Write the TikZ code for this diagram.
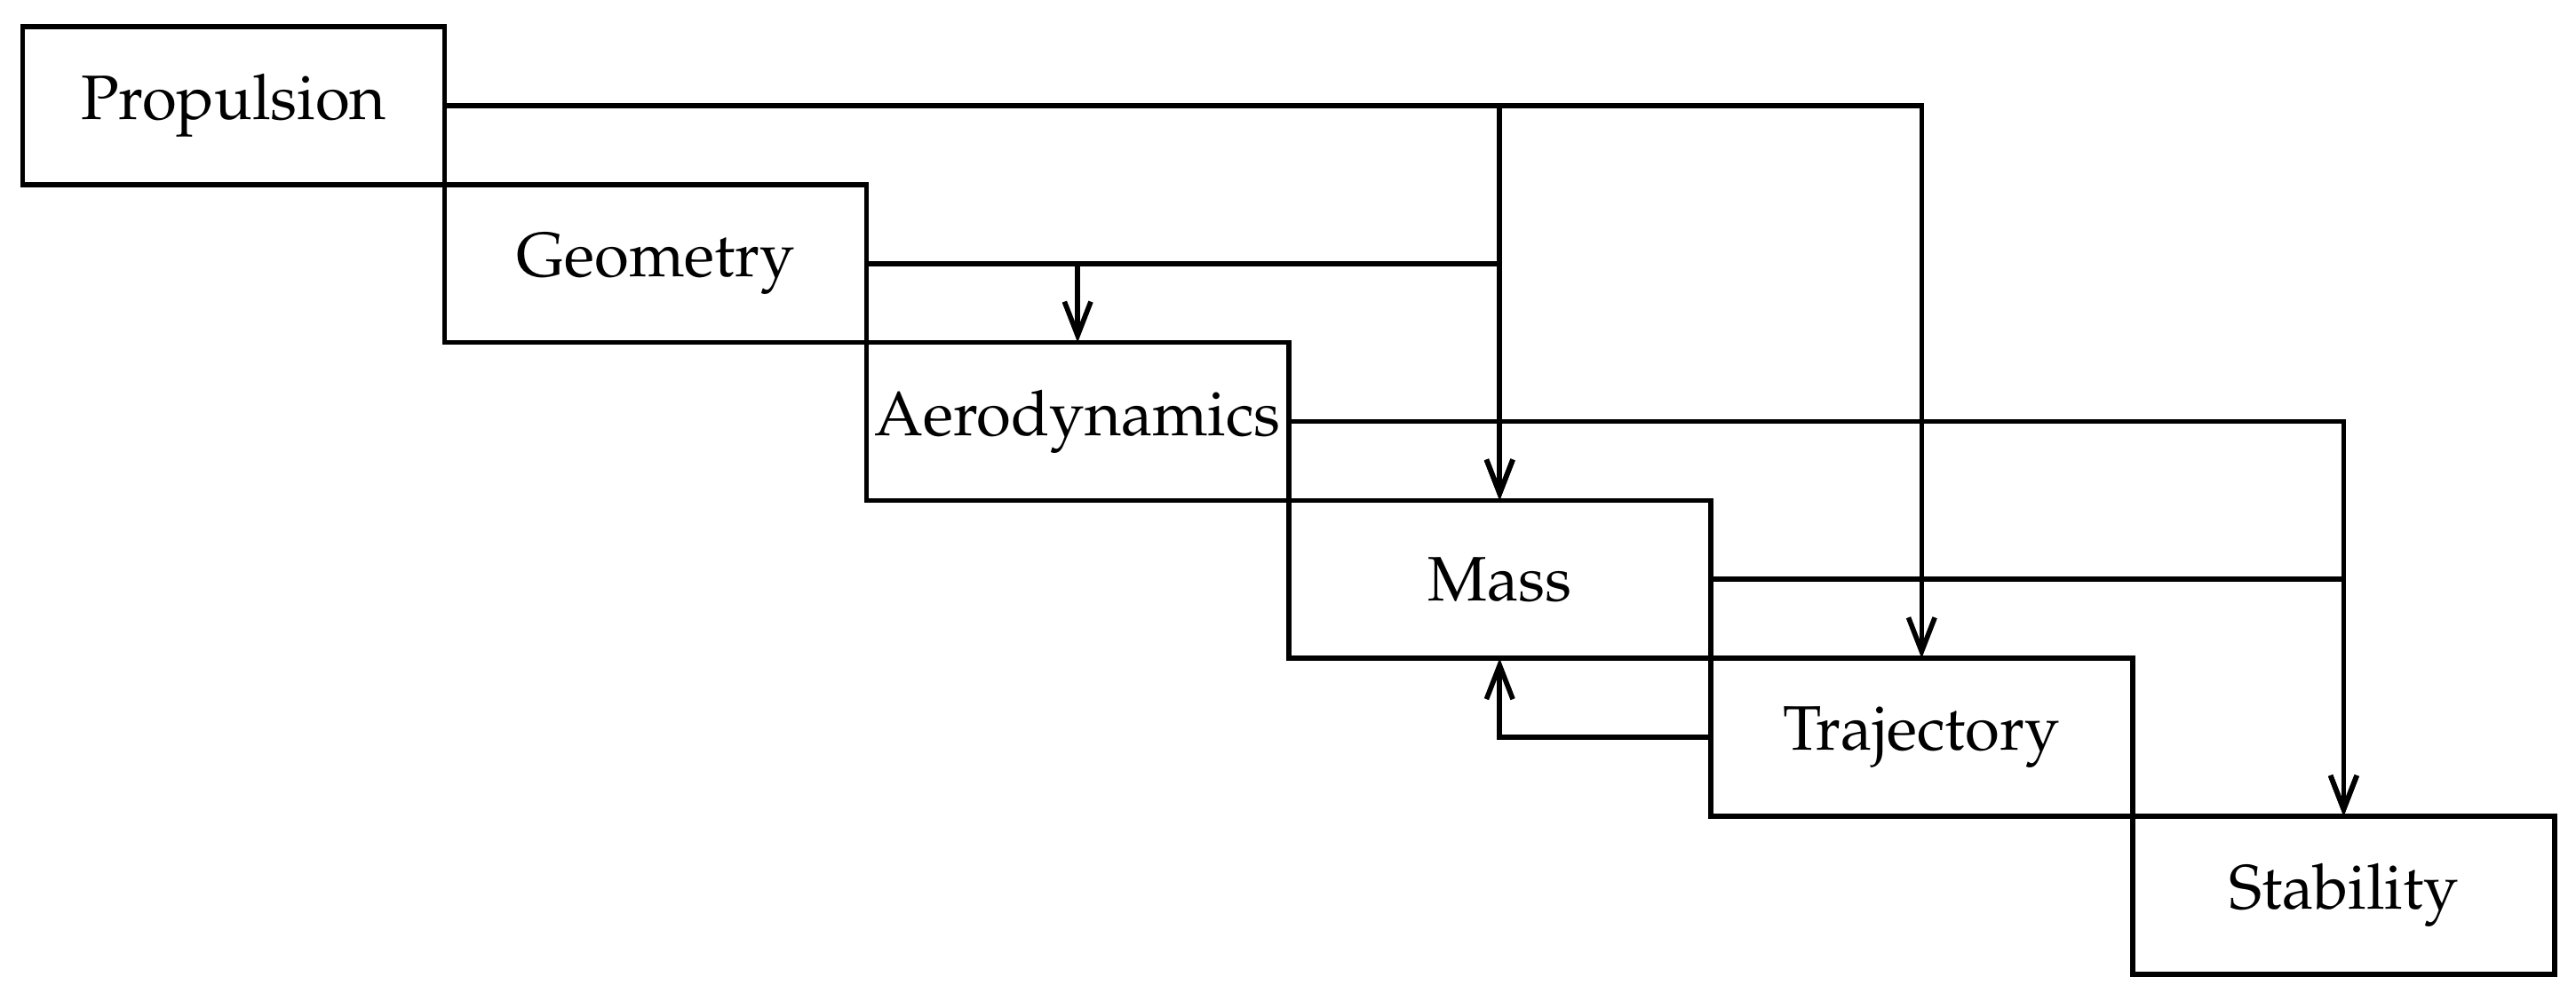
\documentclass[tikz,border=0pt]{standalone}
\usepackage[T1]{fontenc}
\usepackage{mathpazo}
\usepackage{tikz}
\usetikzlibrary{arrows.meta, positioning}

\begin{document}
\begin{tikzpicture}[
  node distance=0pt,
  discbox/.style={rectangle, draw=black, thick, inner sep=0pt, outer sep=0pt, minimum width=67.2pt, minimum height=25.15pt, align=center},
  arr/.style={-{Straight Barb[length=5.4pt, width=4.2pt]}, thick}
]
\useasboundingbox (-3.6pt,4.24pt) rectangle (406.6pt,-153.86pt);
\node[discbox, anchor=north west] (prop) at (0,0) {Propulsion};
\node[discbox, below right=0pt and 0pt of prop] (geom) {Geometry};
\node[discbox, below right=0pt and 0pt of geom] (aero) {Aerodynamics};
\node[discbox, below right=0pt and 0pt of aero] (mass) {Mass};
\node[discbox, below right=0pt and 0pt of mass] (traj) {Trajectory};
\node[discbox, below right=0pt and 0pt of traj] (stab) {Stability};
\draw[arr] (prop.east) -| (mass.north);
\draw[arr] (prop.east) -| (traj.north);
\draw[arr] (geom.east) -| (aero.north);
\draw[arr] (geom.east) -| (mass.north);
\draw[arr] (aero.east) -| (stab.north);
\draw[arr] (mass.east) -| (stab.north);
\draw[arr] (traj.west) -| (mass.south);
\end{tikzpicture}
\end{document}
